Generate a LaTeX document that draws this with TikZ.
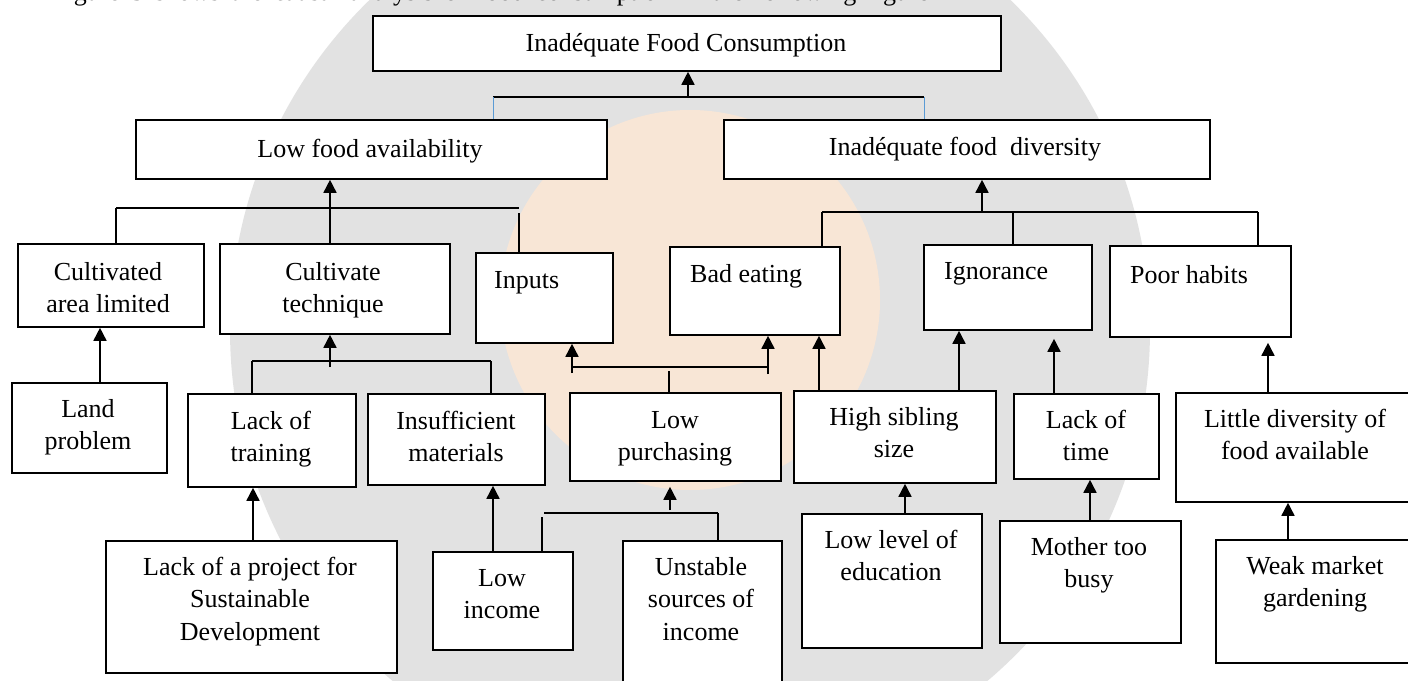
\documentclass[tikz,border=0pt]{standalone}
\usepackage{fontspec}
\setmainfont{Liberation Serif}
\usetikzlibrary{arrows.meta}
\definecolor{linkblue}{RGB}{91,155,213}
\definecolor{wmgrey}{RGB}{226,226,226}
\definecolor{wmorange}{RGB}{248,230,214}
\newcommand{\cbox}[5]{\node[box, minimum width={(#4-#2)*1pt}, minimum height={(#5-#3)*1pt}] (#1) at (#2,#3) {};}
\newcommand{\ctext}[4]{\node[txt, anchor=north] (#1) at (#2,#3-22.75) {\strut #4};}
\newcommand{\ltext}[4]{\node[txt, anchor=base west] (#1) at (#2,#3) {#4};}
\begin{document}
\begin{tikzpicture}[x=1pt,y=-1pt,
  box/.style={draw, line width=1.8pt, fill=white, inner sep=0pt, anchor=north west},
  txt/.style={inner sep=0pt, align=center, font=\fontsize{26}{32.5}\selectfont},
  ln/.style={line width=1.4pt},
  bl/.style={line width=0.9pt, draw=linkblue},
  arr/.style={line width=1.6pt, -{Triangle[width=13pt,length=13pt]}}]
\useasboundingbox (0,0) rectangle (1408,680);
\clip (0,0) rectangle (1408,680);
\fill[white] (0,0) rectangle (1408,680);

% faint watermark emblem in the background
\fill[wmgrey] (690,330) circle [radius=460];
\fill[wmorange] (690,300) circle [radius=190];

% caption line cut at the top
\node[txt, anchor=base west] (cap) at (52,1) {\spaceskip=11pt Figure 3 shows the causal analysis of food consumption in the following figure};

% boxes
\cbox{T}{372}{15}{1000}{70}
\cbox{L1}{135}{119}{606}{178}
\cbox{D}{723}{119}{1209}{178}
\cbox{C1}{17}{243}{203}{326}
\cbox{C2}{219}{243}{449}{333}
\cbox{IN}{475}{252}{612}{342}
\cbox{BE}{669}{246}{839}{334}
\cbox{IG}{923}{244}{1091}{329}
\cbox{PH}{1109}{245}{1290}{336}
\cbox{LAND}{11}{382}{166}{472}
\cbox{LT}{187}{393}{355}{486}
\cbox{IM}{367}{393}{544}{484}
\cbox{LPU}{569}{392}{780}{480}
\cbox{HS}{793}{390}{995}{482}
\cbox{LTI}{1013}{393}{1158}{478}
\cbox{LD}{1175}{392}{1416}{501}
\cbox{PROJ}{105}{540}{396}{672}
\cbox{LI}{432}{551}{572}{649}
\cbox{US}{622}{540}{781}{692}
\cbox{LL}{801}{513}{981}{647}
\cbox{MB}{999}{520}{1180}{642}
\cbox{WM}{1215}{539}{1416}{662}

% texts
\node[txt, anchor=base] (T-t) at (686,51) {Inadéquate Food Consumption};
\node[txt, anchor=base] (L1-t) at (370,157) {Low food availability};
\node[txt, anchor=base] (D-t) at (965,155) {Inadéquate food\ \ diversity};
\ctext{C1-t}{108}{280}{Cultivated\\area limited}
\ctext{C2-t}{333}{280}{Cultivate\\technique}
\ltext{IN-t}{494}{288}{Inputs}
\ltext{BE-t}{690}{282}{Bad eating}
\ltext{IG-t}{944}{279}{Ignorance}
\ltext{PH-t}{1130}{283}{Poor habits}
\ctext{LAND-t}{88}{417}{Land\\problem}
\ctext{LT-t}{271}{429}{Lack of\\training}
\ctext{IM-t}{456}{429}{Insufficient\\materials}
\ctext{LPU-t}{675}{428}{Low\\purchasing}
\ctext{HS-t}{894}{425}{High sibling\\size}
\ctext{LTI-t}{1086}{428}{Lack of\\time}
\ctext{LD-t}{1295}{427}{Little diversity of\\food available}
\ctext{PROJ-t}{250}{575}{Lack of a project for\\Sustainable\\Development}
\ctext{LI-t}{502}{586}{Low\\income}
\ctext{US-t}{701}{575}{Unstable\\sources of\\income}
\ctext{LL-t}{891}{548}{Low level of\\education}
\ctext{MB-t}{1089}{555}{Mother too\\busy}
\ctext{WM-t}{1315}{574}{Weak market\\gardening}

% junction points
\coordinate (jT) at (688,97);
\coordinate (jTl) at (493,97);
\coordinate (jTr) at (924,97);
\coordinate (jL) at (330,208);
\coordinate (jLl) at (116,208);
\coordinate (jLr) at (519,208);
\coordinate (jLr2) at (519,213);
\coordinate (jD) at (982,212);
\coordinate (jDl) at (822,212);
\coordinate (jDm) at (1013,212);
\coordinate (jDr) at (1258,212);
\coordinate (jC) at (330,367);
\coordinate (jCl) at (252,361);
\coordinate (jCr) at (491,361);
\coordinate (jIa) at (572,373);
\coordinate (jIl) at (572,367);
\coordinate (jIr) at (768,367);
\coordinate (jIb) at (768,374);
\coordinate (jIm) at (669,371);
\coordinate (jP) at (670,510);
\coordinate (jPl) at (544,513);
\coordinate (jPr) at (718,513);
\coordinate (jPl2) at (542,517);

% level 0
\draw[arr] (jT) -- (T.south -| jT);
\draw[ln] (jTl) -- (jTr);
\draw[bl] (jTl) -- (L1.north -| jTl);
\draw[bl] (jTr) -- (D.north -| jTr);

% low food availability
\draw[arr] (jL) -- (L1.south -| jL);
\draw[ln] (jLl) -- (jLr);
\draw[ln] (jLl) -- (C1.north -| jLl);
\draw[ln] (jL) -- (C2.north -| jL);
\draw[ln] (jLr2) -- (IN.north -| jLr2);

% inadequate food diversity
\draw[arr] (jD) -- (D.south -| jD);
\draw[ln] (jDl) -- (jDr);
\draw[ln] (jDl) -- (BE.north -| jDl);
\draw[ln] (jDm) -- (IG.north -| jDm);
\draw[ln] (jDr) -- (PH.north -| jDr);

% cultivated area
\draw[arr] (LAND.north -| 100,0) -- (C1.south -| 100,0);

% cultivate technique
\draw[arr] (jC) -- (C2.south -| jC);
\draw[ln] (jCl) -- (jCr);
\draw[ln] (jCl) -- (LT.north -| jCl);
\draw[ln] (jCr) -- (IM.north -| jCr);
\draw[arr] (PROJ.north -| 253,0) -- (LT.south -| 253,0);
\draw[arr] (LI.north -| 493,0) -- (IM.south -| 493,0);

% low purchasing -> inputs, bad eating
\draw[arr] (jIa) -- (IN.south -| jIa);
\draw[arr] (jIb) -- (BE.south -| jIb);
\draw[ln] (jIl) -- (jIr);
\draw[ln] (jIm) -- (LPU.north -| jIm);

% low income, unstable -> low purchasing
\draw[arr, shorten >=5pt] (jP) -- (LPU.south -| jP);
\draw[ln] (jPl) -- (jPr);
\draw[ln] (jPl2) -- (LI.north -| jPl2);
\draw[ln] (jPr) -- (US.north -| jPr);

% high sibling size
\draw[arr] (HS.north -| 819,0) -- (BE.south -| 819,0);
\draw[arr] (HS.north -| 959,0) -- (IG.south -| 959,0);
\draw[arr] (LL.north -| 905,0) -- (HS.south -| 905,0);

% lack of time
\draw[arr, shorten >=8pt] (LTI.north -| 1054,0) -- (IG.south -| 1054,0);
\draw[arr] (MB.north -| 1090,0) -- (LTI.south -| 1090,0);

% little diversity
\draw[arr, shorten >=5pt] (LD.north -| 1268,0) -- (PH.south -| 1268,0);
\draw[arr] (WM.north -| 1288,0) -- (LD.south -| 1288,0);
\end{tikzpicture}
\end{document}
